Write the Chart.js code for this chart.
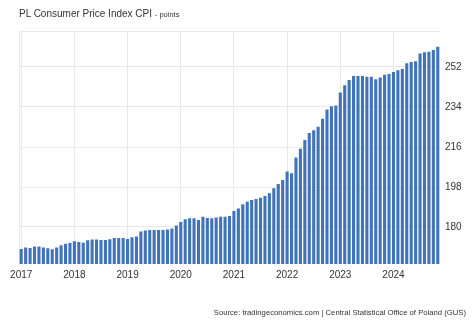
<!DOCTYPE html>
<html lang="en">
<head>
<meta charset="utf-8">
<style>
  body { margin: 0; background: #fff; }
  #wrap { position: relative; width: 474px; height: 324px; font-family: "Liberation Sans", Arial, sans-serif; color: #333; }
  #title { position: absolute; left: 19px; top: 8px; font-size: 10px; white-space: nowrap; }
  #title small { font-size: 7.5px; }
  #source { position: absolute; right: 8px; top: 308px; font-size: 7.7px; white-space: nowrap; }
  canvas { position: absolute; left: 0; top: 0; }
</style>
</head>
<body>
<div id="wrap">
  <canvas id="myChart" width="474" height="324"></canvas>
  <div id="title">PL Consumer Price Index CPI <small>- points</small></div>
  <div id="source">Source: tradingeconomics.com | Central Statistical Office of Poland (GUS)</div>
</div>
<script src="https://cdn.jsdelivr.net/npm/chart.js"></script>
<script>
const years = ['2017', '2018', '2019', '2020', '2021', '2022', '2023', '2024'];
const yTicks = [180, 198, 216, 234, 252];

// monthly index values, Jan..Dec
const cpi2017 = [170.1, 170.8, 170.5, 171.2, 171.2, 170.8, 170.4, 170.0, 170.8, 171.8, 172.5, 172.8];
const cpi2018 = [173.6, 173.3, 172.9, 174.0, 174.4, 174.4, 174.1, 174.1, 174.5, 175.1, 175.1, 175.0];
const cpi2019 = [174.6, 175.4, 175.7, 178.0, 178.4, 178.6, 178.6, 178.6, 178.6, 178.9, 179.3, 180.7];
const cpi2020 = [182.2, 183.5, 183.9, 183.9, 183.2, 184.6, 184.0, 183.9, 184.3, 184.6, 184.6, 184.9];
const cpi2021 = [187.2, 188.3, 190.2, 191.4, 192.1, 192.6, 193.2, 193.9, 195.2, 197.4, 199.3, 201.1];
const cpi2022 = [205.0, 204.2, 211.3, 215.2, 219.1, 222.3, 223.5, 225.1, 228.7, 232.9, 234.3, 234.7];
const cpi2023 = [240.5, 243.8, 246.1, 247.9, 247.9, 247.9, 247.6, 247.6, 246.5, 247.3, 248.5, 248.8];
const cpi2024 = [249.7, 250.5, 251.1, 253.7, 254.3, 254.6, 258.1, 258.6, 258.9, 259.6, 261.1];

const values = [].concat(cpi2017, cpi2018, cpi2019, cpi2020, cpi2021, cpi2022, cpi2023, cpi2024);
const labels = values.map((v, i) => years[Math.floor(i / 12)] + '-' + String(i % 12 + 1).padStart(2, '0'));

const gridColor = '#e8e8e8';

// top and left frame lines of the plot
const frame = {
  id: 'frame',
  beforeDatasetsDraw(chart) {
    const { ctx, chartArea: a } = chart;
    ctx.save();
    ctx.strokeStyle = gridColor;
    ctx.lineWidth = 1;
    ctx.beginPath();
    ctx.moveTo(a.left + 0.5, a.bottom);
    ctx.lineTo(a.left + 0.5, a.top + 0.5);
    ctx.lineTo(a.right, a.top + 0.5);
    ctx.stroke();
    ctx.restore();
  }
};

const config = {
  type: 'bar',
  data: {
    labels: labels,
    datasets: [{
      label: 'CPI',
      data: values,
      backgroundColor: '#4173b9',
      barPercentage: 0.7,
      categoryPercentage: 1.0
    }]
  },
  options: {
    responsive: false,
    animation: false,
    layout: { padding: { top: 31, left: 19, right: 0, bottom: 40 } },
    plugins: { legend: { display: false }, tooltip: { enabled: false } },
    scales: {
      x: {
        grid: {
          offset: false,
          drawTicks: false,
          color: c => (c.index % 12 === 0 ? gridColor : 'rgba(0,0,0,0)')
        },
        border: { display: false },
        ticks: {
          autoSkip: false,
          maxRotation: 0,
          padding: 5,
          color: '#333',
          font: { family: 'Liberation Sans', size: 10 },
          callback: (v, i) => (i % 12 === 0 ? years[i / 12] : '')
        },
        afterFit: s => { s.height = 20; }
      },
      y: {
        position: 'right',
        min: 163.35,
        max: 268.2,
        afterBuildTicks: s => { s.ticks = yTicks.map(v => ({ value: v })); },
        grid: { color: gridColor, drawTicks: false },
        border: { display: false },
        ticks: {
          padding: 5,
          color: '#333',
          font: { family: 'Liberation Sans', size: 10 }
        },
        afterFit: s => { s.width = 34; }
      }
    }
  },
  plugins: [frame]
};

const myChart = new Chart(document.getElementById('myChart'), config);
</script>
</body>
</html>
